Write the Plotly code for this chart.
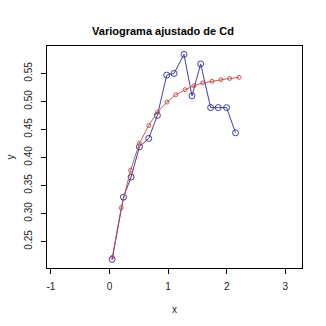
import plotly.graph_objects as go

# Empirical variogram (blue)
emp_x = [0.046, 0.239, 0.369, 0.511, 0.670, 0.817, 0.977, 1.101, 1.271, 1.408, 1.556, 1.726, 1.855, 1.998, 2.151]
emp_y = [0.218, 0.329, 0.365, 0.419, 0.434, 0.475, 0.547, 0.550, 0.584, 0.510, 0.567, 0.489, 0.489, 0.489, 0.444]

# Fitted model (red)
fit_x = [0.05, 0.20, 0.36, 0.51, 0.67, 0.82, 0.98, 1.13, 1.29, 1.44, 1.59, 1.75, 1.90, 2.05, 2.21]
fit_y = [0.222, 0.310, 0.377, 0.425, 0.457, 0.481, 0.499, 0.512, 0.521, 0.528, 0.533, 0.536, 0.539, 0.541, 0.543]

x_ticks = [-1, 0, 1, 2, 3]
x_ticklabels = ["-1", "0", "1", "2", "3"]
y_ticks = [0.25, 0.30, 0.35, 0.40, 0.45, 0.50, 0.55]
y_ticklabels = ["0.25", "0.30", "0.35", "0.40", "0.45", "0.50", "0.55"]

font = "Liberation Sans, Arial, sans-serif"

fig = go.Figure()
fig.add_trace(go.Scatter(
    x=emp_x, y=emp_y, mode="lines+markers",
    line=dict(color="#2a2a8c", width=0.9),
    marker=dict(symbol="circle-open", size=6, color="#2a2a8c", line=dict(width=0.9)),
    showlegend=False,
))
fig.add_trace(go.Scatter(
    x=fit_x, y=fit_y, mode="lines+markers",
    line=dict(color="#c04848", width=0.9),
    marker=dict(symbol="circle-open", size=4, color="#c04848", line=dict(width=0.9)),
    showlegend=False,
))

fig.update_layout(
    width=326, height=326,
    margin=dict(l=47, r=24, t=46, b=58),
    paper_bgcolor="white", plot_bgcolor="white",
    font=dict(family=font, size=10, color="#222"),
    title=dict(text="<b>Variograma ajustado de Cd</b>", x=0.5, xanchor="center",
               y=1 - 31/326, yanchor="middle", font=dict(size=11, color="black")),
)
fig.update_xaxes(
    range=[-1.066, 3.285], tickvals=x_ticks, ticktext=x_ticklabels,
    tickfont=dict(color="#222", size=10), ticks="outside", ticklen=5,
    tickcolor="black", showline=True, linecolor="black", linewidth=1, mirror=True,
    showgrid=False, zeroline=False, ticklabelstandoff=4, automargin=False,
    title=dict(text="x", font=dict(size=10, color="#222"), standoff=14),
)
fig.update_yaxes(
    range=[0.2026, 0.599], tickvals=y_ticks, ticktext=y_ticklabels, tickangle=-90,
    tickfont=dict(color="#222", size=10),
    ticks="outside", ticklen=5, tickcolor="black", showline=True, linecolor="black",
    linewidth=1, mirror=True, showgrid=False, zeroline=False, ticklabelstandoff=5,
    automargin=False,
    title=dict(text="y", font=dict(size=10, color="#222"), standoff=6),
)

fig.write_html("out.html")
